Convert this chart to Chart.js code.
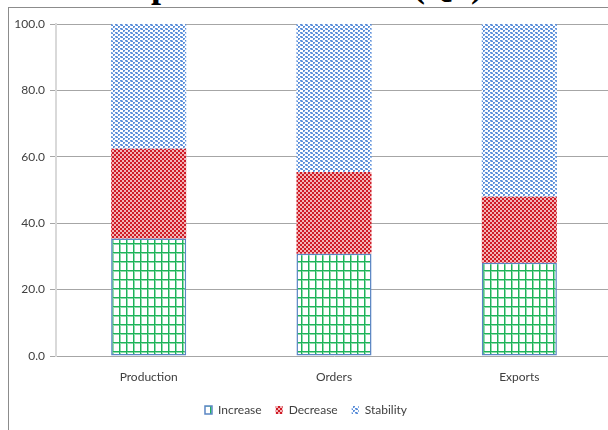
<!DOCTYPE html>
<html>
<head>
<meta charset="utf-8">
<script src="https://cdn.jsdelivr.net/npm/chart.js@4.4.0/dist/chart.umd.min.js"></script>
<style>
  html, body { margin: 0; padding: 0; background: #fff; overflow: hidden; }
  body { width: 608px; height: 430px; position: relative; }
  #title {
    position: absolute; left: -8px; top: -33px; width: 608px; text-align: center;
    font: bold 36px "Liberation Serif", "DejaVu Serif", serif; line-height: 36px;
    color: #000; white-space: nowrap;
  }
  #frame {
    position: absolute; left: 8px; top: 7px; width: 700px; height: 500px;
    border-left: 1px solid #8c8c8c; border-top: 1px solid #8c8c8c;
  }
  #wrap { position: absolute; left: 0; top: 0; width: 620px; height: 430px; }
</style>
</head>
<body>
<div id="title">Expectations Index (Q1)</div>
<div id="frame"></div>
<div id="wrap"><canvas id="chart"></canvas></div>
<script>
// survey shares, percent of respondents
const categories = ['Production', 'Orders', 'Exports'];
const increase = [35.4, 30.8, 28.1];
const decrease = [27.0, 24.6, 19.9];
const stability = [37.6, 44.6, 52.0];
const yTicks = [0, 20, 40, 60, 80, 100];

// small repeating tiles used as hatch fills
function makePattern(w, h, draw) {
    const c = document.createElement('canvas');
    c.width = w;
    c.height = h;
    const g = c.getContext('2d');
    draw(g);
    return g.createPattern(c, 'repeat');
}

const gridFill = makePattern(7, 9, (g) => {
    g.fillStyle = '#ffffff';
    g.fillRect(0, 0, 7, 9);
    g.fillStyle = '#8fdcab';
    g.fillRect(0, 0, 2, 9);
    g.fillRect(0, 0, 7, 2);
    g.fillStyle = '#1eb35a';
    g.fillRect(0, 0, 1, 9);
    g.fillRect(0, 0, 7, 1);
});

const checkFill = makePattern(4, 4, (g) => {
    g.fillStyle = '#f3b4b7';
    g.fillRect(0, 0, 4, 4);
    g.fillStyle = '#cf1b26';
    g.fillRect(0, 0, 2, 2);
    g.fillRect(2, 2, 2, 2);
});

const confettiFill = makePattern(5, 4, (g) => {
    g.fillStyle = '#ffffff';
    g.fillRect(0, 0, 5, 4);
    g.fillStyle = '#a9c5ee';
    g.fillRect(0, 1, 1, 1);
    g.fillRect(2, 0, 1, 1);
    g.fillRect(4, 3, 1, 1);
    g.fillRect(3, 2, 1, 1);
    g.fillStyle = '#5b8ed8';
    g.fillRect(0, 0, 2, 1);
    g.fillRect(1, 1, 2, 1);
    g.fillRect(3, 2, 2, 1);
    g.fillRect(3, 3, 1, 1);
});

const textColor = '#404040';
const labelFont = { family: 'Lato, "Open Sans", sans-serif', size: 12 };

new Chart(document.getElementById('chart'), {
    type: 'bar',
    data: {
        labels: categories,
        datasets: [
            {
                label: 'Increase',
                data: increase,
                backgroundColor: gridFill,
                borderColor: '#5b86c4',
                borderWidth: 1.5,
                borderSkipped: false,
            },
            {
                label: 'Decrease',
                data: decrease,
                backgroundColor: checkFill,
                borderWidth: 0,
            },
            {
                label: 'Stability',
                data: stability,
                backgroundColor: confettiFill,
                borderWidth: 0,
            },
        ],
    },
    options: {
        responsive: true,
        maintainAspectRatio: false,
        animation: false,
        layout: { padding: { top: 24, right: 8, bottom: 4, left: 0 } },
        datasets: {
            bar: { categoryPercentage: 1, barPercentage: 0.405 },
        },
        plugins: {
            title: { display: false },
            tooltip: { enabled: false },
            legend: {
                position: 'bottom',
                labels: {
                    font: labelFont,
                    color: textColor,
                    boxWidth: 7,
                    boxHeight: 8,
                    padding: 14,
                },
            },
        },
        scales: {
            x: {
                stacked: true,
                grid: { display: false, drawTicks: false },
                border: { display: false },
                ticks: { font: labelFont, color: textColor, padding: 14 },
                afterFit: (scale) => { scale.height = 34; },
            },
            y: {
                stacked: true,
                min: 0,
                max: 100,
                afterBuildTicks: (scale) => {
                    scale.ticks = yTicks.map((v) => ({ value: v }));
                },
                ticks: {
                    font: labelFont,
                    color: textColor,
                    padding: 5,
                    callback: (v) => Number(v).toFixed(1),
                },
                grid: { color: '#a6a6a6', lineWidth: 1, tickLength: 6 },
                border: { color: '#d9d9d9', width: 2 },
                afterFit: (scale) => { scale.width = 56; },
            },
        },
    },
});
</script>
</body>
</html>
